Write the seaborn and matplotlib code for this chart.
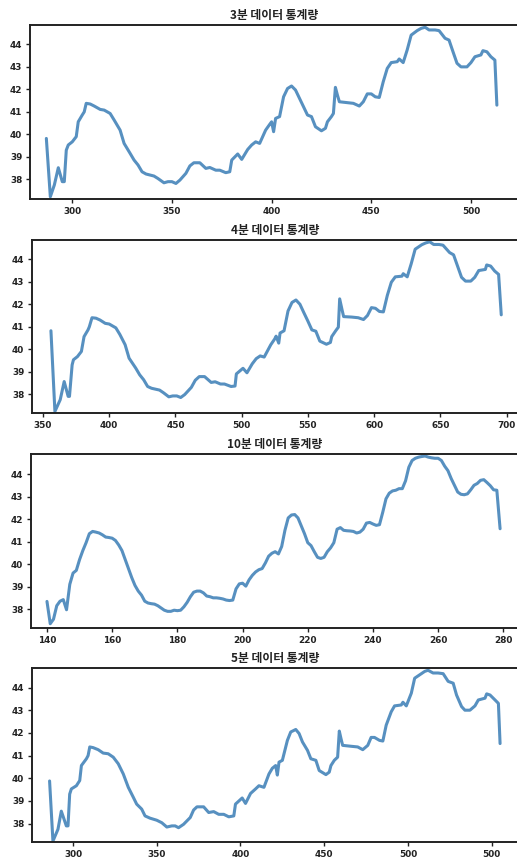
import matplotlib
matplotlib.use("Agg")
import matplotlib.pyplot as plt
import seaborn as sns

# ---- 3분 데이터 ----
x_3min = [287, 289, 291, 293, 295, 296, 297, 298, 300, 302, 303, 305, 306, 307, 309, 311, 314, 316,
          319, 321, 324, 326, 329, 331, 333, 335, 337, 341, 343, 346, 348, 350, 352, 354, 357, 359,
          361, 364, 367, 369, 372, 374, 377, 379, 380, 383, 385, 388, 390, 392, 394, 397, 399, 400,
          401, 402, 404, 406, 408, 410, 412, 414, 416, 418, 420, 422, 425, 427, 428, 430, 431, 432,
          433, 434, 438, 441, 444, 446, 448, 450, 452, 454, 456, 458, 460, 463, 464, 466, 468, 470,
          473, 475, 477, 479, 482, 484, 487, 489, 491, 493, 495, 498, 500, 502, 505, 506, 508, 510,
          512, 513]
y_3min = [39.82, 37.23, 37.75, 38.52, 37.90, 37.90, 39.30, 39.53, 39.67, 39.90, 40.56, 40.86, 41.00,
          41.38, 41.35, 41.26, 41.11, 41.08, 40.93, 40.64, 40.19, 39.60, 39.16, 38.86, 38.64, 38.34,
          38.24, 38.15, 38.04, 37.85, 37.90, 37.90, 37.82, 37.97, 38.27, 38.60, 38.74, 38.74, 38.49,
          38.53, 38.41, 38.41, 38.30, 38.34, 38.86, 39.13, 38.89, 39.33, 39.53, 39.67, 39.60, 40.19,
          40.44, 40.56, 40.12, 40.71, 40.79, 41.67, 42.04, 42.15, 41.97, 41.60, 41.23, 40.86, 40.79,
          40.34, 40.16, 40.27, 40.56, 40.79, 40.93, 42.09, 41.75, 41.45, 41.41, 41.38, 41.26, 41.45,
          41.80, 41.80, 41.67, 41.64, 42.34, 42.93, 43.19, 43.23, 43.35, 43.19, 43.75, 44.41, 44.61,
          44.71, 44.76, 44.64, 44.64, 44.61, 44.27, 44.19, 43.67, 43.16, 43.00, 43.00, 43.19, 43.45,
          43.53, 43.72, 43.67, 43.45, 43.30, 41.30]

# ---- 4분 데이터 ----
x_4min = [356, 359, 363, 366, 369, 370, 372, 373, 376, 379, 381, 384, 385, 387, 390, 393, 397, 400,
          405, 408, 412, 415, 420, 423, 426, 429, 432, 438, 441, 445, 448, 451, 454, 457, 462, 465,
          468, 472, 477, 480, 484, 487, 492, 495, 496, 501, 504, 508, 511, 514, 517, 522, 525, 526,
          528, 529, 532, 535, 538, 541, 544, 547, 550, 553, 556, 559, 564, 567, 568, 571, 573, 574,
          576, 577, 583, 588, 592, 595, 598, 601, 604, 607, 610, 613, 616, 621, 622, 625, 628, 631,
          636, 639, 642, 645, 649, 652, 657, 660, 663, 666, 669, 673, 676, 679, 684, 685, 688, 691,
          694, 696]
y_4min = [40.82, 37.23, 37.75, 38.56, 37.90, 37.90, 39.30, 39.53, 39.67, 39.90, 40.56, 40.86, 41.00,
          41.40, 41.38, 41.30, 41.15, 41.12, 40.95, 40.66, 40.20, 39.60, 39.16, 38.86, 38.64, 38.34,
          38.26, 38.18, 38.06, 37.88, 37.92, 37.92, 37.85, 37.98, 38.30, 38.62, 38.78, 38.78, 38.52,
          38.55, 38.45, 38.45, 38.34, 38.36, 38.90, 39.15, 38.95, 39.35, 39.58, 39.70, 39.65, 40.20,
          40.46, 40.58, 40.27, 40.72, 40.82, 41.70, 42.08, 42.19, 42.00, 41.62, 41.25, 40.86, 40.80,
          40.36, 40.22, 40.30, 40.56, 40.82, 40.98, 42.24, 41.70, 41.45, 41.43, 41.40, 41.32, 41.50,
          41.85, 41.82, 41.68, 41.66, 42.40, 42.98, 43.22, 43.25, 43.36, 43.22, 43.80, 44.45, 44.65,
          44.73, 44.78, 44.66, 44.66, 44.63, 44.30, 44.20, 43.70, 43.20, 43.03, 43.03, 43.20, 43.50,
          43.55, 43.75, 43.70, 43.48, 43.33, 41.53]

# ---- 10분 데이터 ----
x_10min = list(range(140, 280))
y_10min = [38.34, 37.35, 37.55, 38.15, 38.35, 38.42, 37.97, 39.10, 39.60, 39.72,
           40.20, 40.60, 40.95, 41.35, 41.45, 41.42, 41.38, 41.30, 41.20, 41.18,
           41.15, 41.05, 40.85, 40.60, 40.20, 39.80, 39.40, 39.05, 38.80, 38.62,
           38.35, 38.27, 38.24, 38.22, 38.15, 38.05, 37.95, 37.90, 37.90, 37.95,
           37.93, 37.95, 38.10, 38.30, 38.55, 38.75, 38.80, 38.80, 38.72, 38.58,
           38.55, 38.50, 38.50, 38.48, 38.45, 38.40, 38.38, 38.40, 38.90, 39.12,
           39.15, 39.02, 39.30, 39.50, 39.65, 39.75, 39.80, 40.05, 40.35, 40.48,
           40.55, 40.45, 40.78, 41.50, 42.05, 42.18, 42.20, 42.05, 41.70, 41.35,
           40.95, 40.82, 40.55, 40.30, 40.25, 40.30, 40.55, 40.72, 40.95, 41.55,
           41.62, 41.50, 41.48, 41.47, 41.45, 41.38, 41.42, 41.55, 41.82, 41.85,
           41.78, 41.72, 41.75, 42.30, 42.90, 43.15, 43.25, 43.28, 43.35, 43.35,
           43.70, 44.30, 44.60, 44.70, 44.75, 44.78, 44.80, 44.75, 44.72, 44.70,
           44.70, 44.60, 44.35, 44.15, 43.80, 43.50, 43.20, 43.10, 43.08, 43.12,
           43.30, 43.50, 43.58, 43.72, 43.75, 43.62, 43.48, 43.30, 43.28, 41.57]

# ---- 5분 데이터 ----
x_5min = [286, 288, 291, 293, 296, 297, 298, 299, 302, 304, 305, 308, 309, 310, 312, 315, 318, 321,
          324, 327, 330, 333, 336, 338, 341, 343, 346, 350, 353, 356, 359, 361, 363, 366, 370, 372,
          374, 378, 381, 384, 387, 390, 393, 396, 397, 401, 403, 406, 409, 411, 414, 417, 419, 421,
          422, 423, 425, 428, 430, 433, 435, 437, 440, 442, 445, 447, 451, 453, 454, 456, 458, 459,
          460, 461, 466, 470, 473, 476, 478, 480, 483, 485, 487, 490, 492, 496, 497, 499, 502, 504,
          508, 510, 512, 515, 518, 521, 524, 527, 529, 532, 534, 537, 540, 542, 546, 547, 549, 552,
          554, 555]
y_5min = [39.88, 37.23, 37.75, 38.55, 37.90, 37.90, 39.30, 39.53, 39.67, 39.90, 40.56, 40.86, 41.00,
          41.38, 41.35, 41.26, 41.11, 41.08, 40.93, 40.64, 40.19, 39.60, 39.16, 38.86, 38.64, 38.34,
          38.24, 38.15, 38.04, 37.85, 37.90, 37.90, 37.82, 37.97, 38.27, 38.60, 38.74, 38.74, 38.49,
          38.53, 38.41, 38.41, 38.30, 38.34, 38.86, 39.13, 38.89, 39.33, 39.53, 39.67, 39.60, 40.19,
          40.44, 40.56, 40.14, 40.71, 40.79, 41.67, 42.04, 42.15, 41.97, 41.60, 41.23, 40.86, 40.79,
          40.34, 40.16, 40.27, 40.56, 40.79, 40.93, 42.08, 41.75, 41.45, 41.41, 41.38, 41.26, 41.45,
          41.80, 41.80, 41.67, 41.64, 42.34, 42.93, 43.19, 43.23, 43.35, 43.19, 43.75, 44.41, 44.61,
          44.71, 44.76, 44.64, 44.64, 44.61, 44.27, 44.19, 43.67, 43.16, 43.00, 43.00, 43.19, 43.45,
          43.53, 43.72, 43.67, 43.45, 43.30, 41.53]

titles = ["3분 데이터 통계량", "4분 데이터 통계량", "10분 데이터 통계량", "5분 데이터 통계량"]
y_ticks = [38, 39, 40, 41, 42, 43, 44]
x_ticks_3min = [300, 350, 400, 450, 500]
x_ticks_4min = [350, 400, 450, 500, 550, 600, 650, 700]
x_ticks_10min = [140, 160, 180, 200, 220, 240, 260, 280]
x_ticks_5min = [300, 350, 400, 450, 500, 550]
x_ticklabels_5min = ["300", "350", "400", "450", "500", "500"]

sns.set_style("ticks")
plt.rcParams["font.family"] = ["Noto Sans CJK KR", "DejaVu Sans"]

W, H = 517, 860
fig = plt.figure(figsize=(W / 100, H / 100), dpi=100)

panels = [
    # (x, y, pixel box left/top/bottom, xlim, ylim, ticks, labels)
    (x_3min, y_3min, (30, 25, 199), (278.8, 524.1), (37.13, 44.86), x_ticks_3min, None),
    (x_4min, y_4min, (32, 240, 413), (341.7, 709.4), (37.16, 44.86), x_ticks_4min, None),
    (x_10min, y_10min, (31, 454, 628), (135.1, 284.8), (37.16, 44.89), x_ticks_10min, None),
    (x_5min, y_5min, (32, 668, 842), (275.5, 566.3), (37.19, 44.86), x_ticks_5min, x_ticklabels_5min),
]

line_color = "#3a7db5"
for (xs, ys, (pl, pt, pb), xlim, ylim, xt, xtl), title in zip(panels, titles):
    right = 519
    ax = fig.add_axes([pl / W, 1 - pb / H, (right - pl) / W, (pb - pt) / H])
    sns.lineplot(x=xs, y=ys, ax=ax, color=line_color, linewidth=2.2, alpha=0.85)
    ax.set_xlim(*xlim)
    ax.set_ylim(*ylim)
    if xtl is None:
        ax.set_xticks(xt)
    else:
        ax.set_xticks(xt, labels=xtl)
    ax.set_yticks(y_ticks)
    for side in ["top", "bottom", "left", "right"]:
        ax.spines[side].set_visible(True)
        ax.spines[side].set_color("#222222")
        ax.spines[side].set_linewidth(1.4)
    ax.tick_params(axis="both", direction="out", length=3, width=1.0, color="#222222",
                   labelsize=6.4, labelcolor="#222222", pad=2.5)
    for lab in ax.get_xticklabels() + ax.get_yticklabels():
        lab.set_fontfamily(["DejaVu Sans"])
        lab.set_fontweight("bold")
    ax.set_xlabel("")
    ax.set_ylabel("")
    ax.set_title(title, fontsize=8.5, fontweight="bold", color="#222222", pad=4)

fig.savefig("out.png", dpi=100)
